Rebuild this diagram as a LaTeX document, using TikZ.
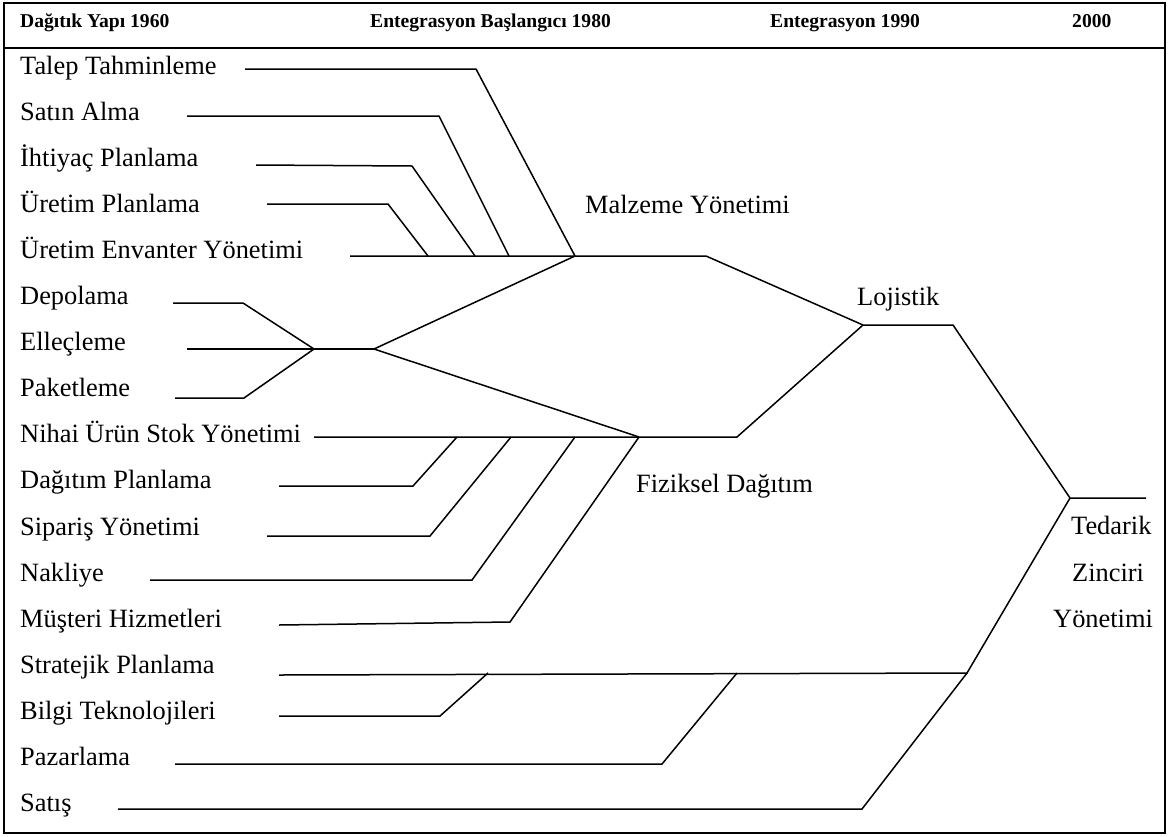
\documentclass[tikz,border=0pt]{standalone}
\usepackage{fontspec}
\setmainfont{Liberation Serif}
\begin{document}
\begin{tikzpicture}[x=1pt,y=-1pt,
  conn/.style={line width=1.5pt, line join=miter, line cap=butt},
  frame/.style={line width=2.4pt},
  lbl/.style={anchor=base west, inner sep=0pt, font=\fontsize{26.4}{30}\selectfont},
  hdr/.style={anchor=base west, inner sep=0pt, font=\fontsize{19.6}{22}\selectfont\bfseries}]
\useasboundingbox (0,0) rectangle (1169,836);
\draw[frame] (4,3) rectangle (1165,833);
\draw[frame] (4,48) -- (1165,48);
% headers
\node[hdr] (h1) at (20,27) {Dağıtık Yapı 1960};
\node[hdr] (h2) at (370,27) {Entegrasyon Başlangıcı 1980};
\node[hdr] (h3) at (770,27) {Entegrasyon 1990};
\node[hdr] (h4) at (1072,27) {2000};
% left labels
\node[lbl] (l1)  at (20,74)    {Talep Tahminleme};
\node[lbl] (l2)  at (20,120.1) {Satın Alma};
\node[lbl] (l3)  at (20,166.2) {İhtiyaç Planlama};
\node[lbl] (l4)  at (20,212.3) {Üretim Planlama};
\node[lbl] (l5)  at (20,258.4) {Üretim Envanter Yönetimi};
\node[lbl] (l6)  at (20,304.5) {Depolama};
\node[lbl] (l7)  at (20,350.6) {Elleçleme};
\node[lbl] (l8)  at (20,396.7) {Paketleme};
\node[lbl] (l9)  at (20,442.8) {Nihai Ürün Stok Yönetimi};
\node[lbl] (l10) at (20,488.9) {Dağıtım Planlama};
\node[lbl] (l11) at (20,535)   {Sipariş Yönetimi};
\node[lbl] (l12) at (20,581.1) {Nakliye};
\node[lbl] (l13) at (20,627.2) {Müşteri Hizmetleri};
\node[lbl] (l14) at (20,673.3) {Stratejik Planlama};
\node[lbl] (l15) at (20,719.4) {Bilgi Teknolojileri};
\node[lbl] (l16) at (20,765.5) {Pazarlama};
\node[lbl] (l17) at (20,811.6) {Satış};
% group labels
\node[lbl] (malz) at (585,213) {Malzeme Yönetimi};
\node[lbl] (loj)  at (857,305) {Lojistik};
\node[lbl] (fiz)  at (636,492) {Fiziksel Dağıtım};
\node[lbl] (t1)   at (1071,534) {Tedarik};
\node[lbl] (t2)   at (1072,581) {Zinciri};
\node[lbl] (t3)   at (1053,627) {Yönetimi};
% junctions
\coordinate (jM)  at (575,256);
\coordinate (jMe) at (706,256);
\coordinate (jL)  at (863,325);
\coordinate (jLe) at (953,325);
\coordinate (jT)  at (1070,498);
\coordinate (jTe) at (1146,498);
\coordinate (jD)  at (314,349);
\coordinate (jDe) at (374,349);
\coordinate (jF)  at (639,437);
\coordinate (jFe) at (737,437);
\coordinate (jS)  at (967,673);
% line starts and bends
\coordinate (s1) at (245,69);   \coordinate (b1) at (476,69);
\coordinate (s2) at (187,116);  \coordinate (b2) at (439,116);
\coordinate (s3) at (256,165);  \coordinate (b3) at (412,166);
\coordinate (s4) at (267,204);  \coordinate (b4) at (388,204);
\coordinate (s5) at (350,256);
\coordinate (e2) at (509,256);  \coordinate (e3) at (475,256); \coordinate (e4) at (428,256);
\coordinate (s6) at (173,303);  \coordinate (b6) at (243,303);
\coordinate (s7) at (187,349);
\coordinate (s8) at (175,398);  \coordinate (b8) at (244,398);
\coordinate (s9) at (314,437);
\coordinate (s10) at (279,486); \coordinate (b10) at (413,486); \coordinate (e10) at (457,437);
\coordinate (s11) at (267,536); \coordinate (b11) at (430,536); \coordinate (e11) at (511,437);
\coordinate (s12) at (150,580); \coordinate (b12) at (472,580); \coordinate (e12) at (575,437);
\coordinate (s13) at (279,625); \coordinate (b13) at (510,622);
\coordinate (s14) at (279,675);
\coordinate (s15) at (279,716); \coordinate (b15) at (440,716); \coordinate (e15) at (488,673);
\coordinate (s16) at (175,764); \coordinate (b16) at (662,764); \coordinate (e16) at (737,673);
\coordinate (s17) at (118,809); \coordinate (b17) at (862,809);
% connectors
\draw[conn] (s1) -- (b1) -- (jM);
\draw[conn] (s2) -- (b2) -- (e2);
\draw[conn] (s3) -- (b3) -- (e3);
\draw[conn] (s4) -- (b4) -- (e4);
\draw[conn] (s5) -- (jMe) -- (jL);
\draw[conn] (s6) -- (b6) -- (jD);
\draw[conn] (s7) -- (jDe);
\draw[conn] (s8) -- (b8) -- (jD);
\draw[conn] (jM) -- (jDe) -- (jF);
\draw[conn] (s9) -- (jFe) -- (jL);
\draw[conn] (jL) -- (jLe) -- (jT) -- (jTe);
\draw[conn] (s10) -- (b10) -- (e10);
\draw[conn] (s11) -- (b11) -- (e11);
\draw[conn] (s12) -- (b12) -- (e12);
\draw[conn] (s13) -- (b13) -- (jF);
\draw[conn] (s14) -- (jS) -- (jT);
\draw[conn] (s15) -- (b15) -- (e15);
\draw[conn] (s16) -- (b16) -- (e16);
\draw[conn] (s17) -- (b17) -- (jS);
\end{tikzpicture}
\end{document}
